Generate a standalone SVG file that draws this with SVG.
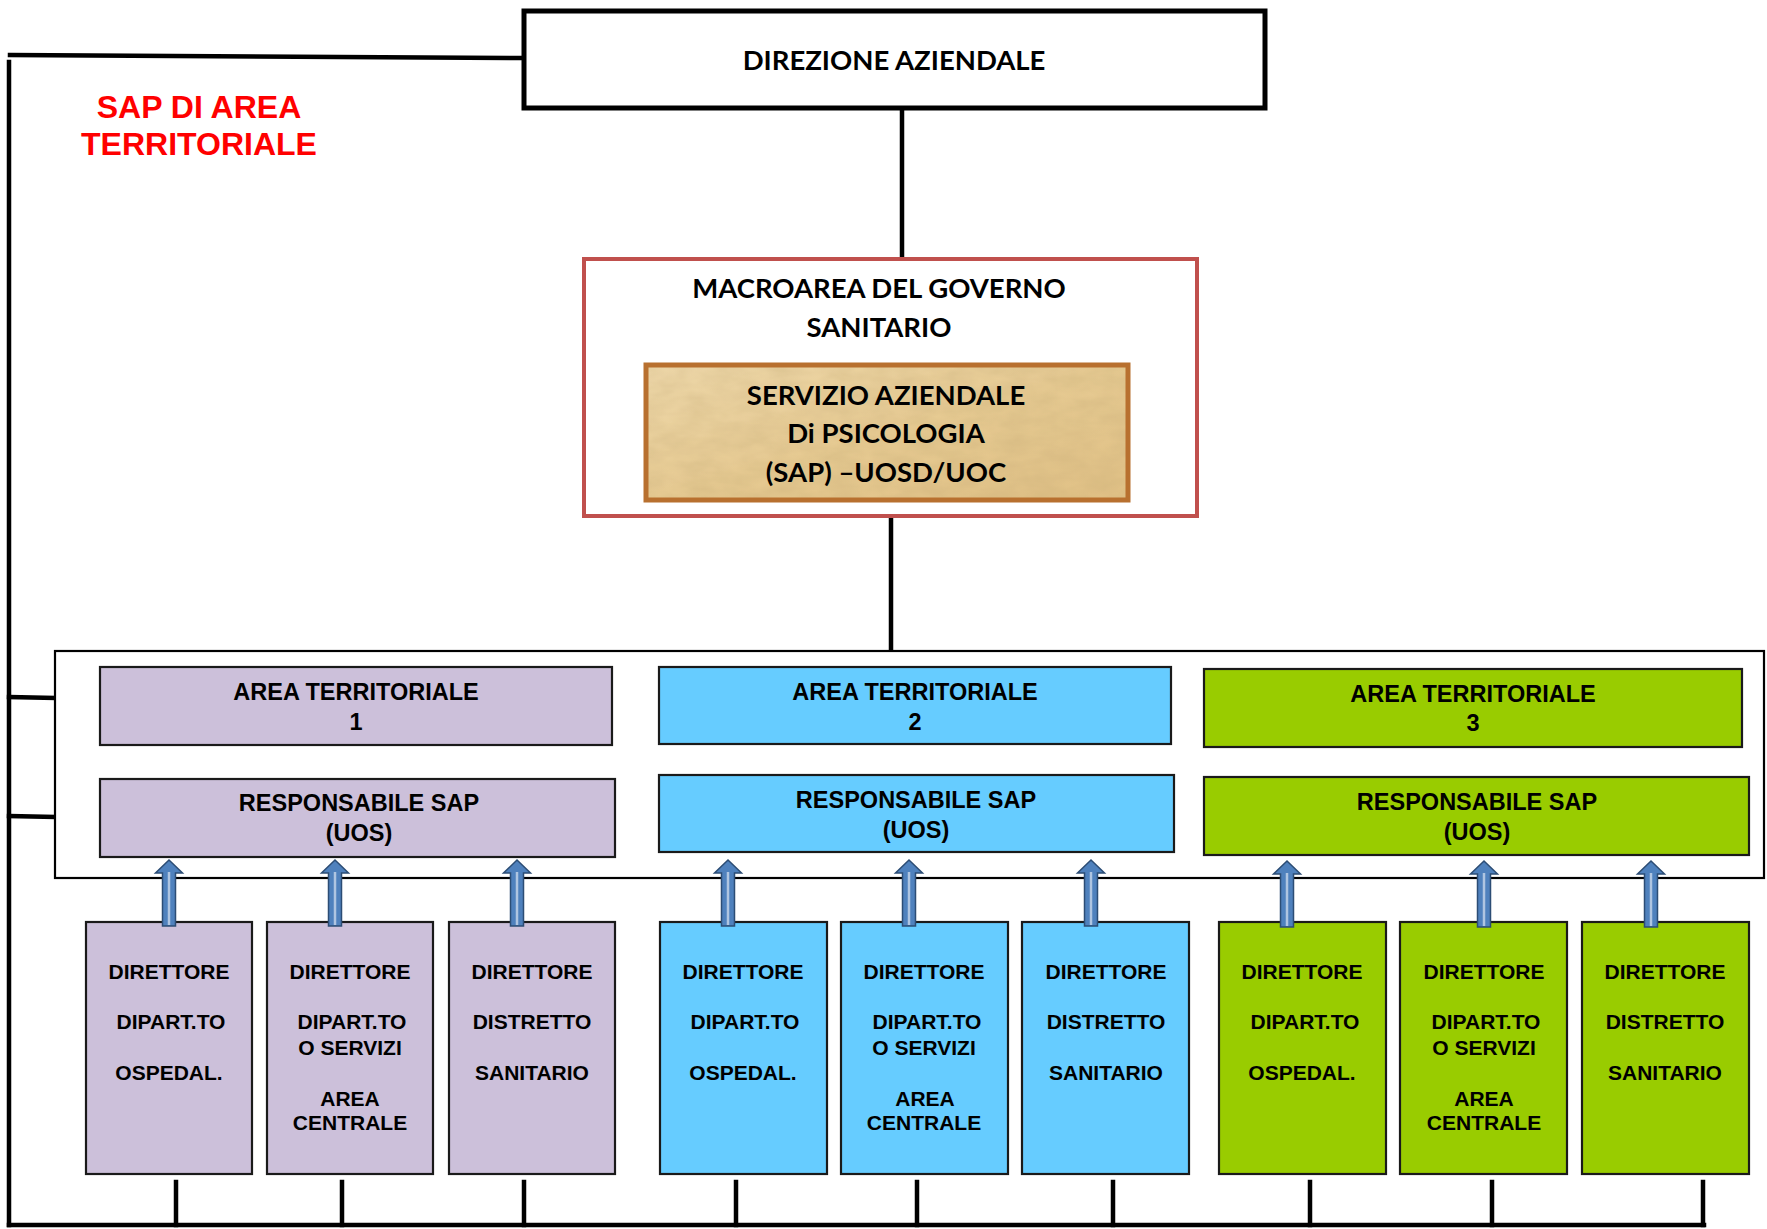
<svg xmlns="http://www.w3.org/2000/svg" width="1767" height="1229" viewBox="0 0 1767 1229">
<style>
.cal{font-family:Lato,"Open Sans","Liberation Sans",sans-serif;font-weight:bold;font-size:27.5px;fill:#000;text-anchor:middle}
.ar{font-family:"Liberation Sans",Arial,sans-serif;font-weight:bold;fill:#000;text-anchor:middle}
.t23{font-size:23.5px}
.t21{font-size:21px}
.red{font-family:"Liberation Sans",Arial,sans-serif;font-weight:bold;font-size:32px;fill:#FF0000;text-anchor:middle}
.ln{stroke:#000;stroke-width:4.5;fill:none;stroke-linecap:square}
.pur{fill:#CCC0DA}
.blu{fill:#66CCFF}
.grn{fill:#99CC00}
.box{stroke:#1a1a1a;stroke-width:2.2}
.arrow{fill:#4F81BD;stroke:#2C4D75;stroke-width:1.5}
.arrin{stroke:#C8D6EA;stroke-width:2.5;opacity:0.8}
</style>
<defs>
<filter id="papyrus" x="0" y="0" width="100%" height="100%">
<feTurbulence type="fractalNoise" baseFrequency="0.035 0.08" numOctaves="3" seed="7" result="n"/>
<feColorMatrix in="n" type="matrix" values="0 0 0 0 0.55  0 0 0 0 0.40  0 0 0 0 0.18  0 0 0 0.45 -0.08" result="c"/>
<feComposite in="c" in2="SourceGraphic" operator="in" result="t"/>
<feMerge><feMergeNode in="SourceGraphic"/><feMergeNode in="t"/></feMerge>
</filter>
<linearGradient id="pap" x1="0" y1="0" x2="1" y2="1">
<stop offset="0" stop-color="#EED8AA"/>
<stop offset="0.5" stop-color="#E6CA92"/>
<stop offset="1" stop-color="#E0C085"/>
</linearGradient>
<g id="arr">
<polygon class="arrow" points="-6.5,66 -6.5,13 -13.5,13 0,0 13.5,13 6.5,13 6.5,66"/>
<line class="arrin" x1="0" y1="12" x2="0" y2="65"/>
</g>
</defs>
<rect width="1767" height="1229" fill="#fff"/>

<g id="connectors">
<line class="ln" x1="10" y1="55" x2="522" y2="58"/>
<line class="ln" x1="9" y1="62" x2="9" y2="1225"/>
<line class="ln" x1="9" y1="1225" x2="1704" y2="1225"/>
<line class="ln" x1="9" y1="697" x2="54" y2="698"/>
<line class="ln" x1="9" y1="816" x2="54" y2="817"/>
<line class="ln" x1="902" y1="108" x2="902" y2="257"/>
<line class="ln" x1="891" y1="517" x2="891" y2="650"/>
<line class="ln" x1="176" y1="1182" x2="176" y2="1225"/>
<line class="ln" x1="342" y1="1182" x2="342" y2="1225"/>
<line class="ln" x1="524" y1="1182" x2="524" y2="1225"/>
<line class="ln" x1="736" y1="1182" x2="736" y2="1225"/>
<line class="ln" x1="917" y1="1182" x2="917" y2="1225"/>
<line class="ln" x1="1113" y1="1182" x2="1113" y2="1225"/>
<line class="ln" x1="1310" y1="1182" x2="1310" y2="1225"/>
<line class="ln" x1="1492" y1="1182" x2="1492" y2="1225"/>
<line class="ln" x1="1703" y1="1182" x2="1703" y2="1225"/>
</g>

<g id="label-sap">
<text class="red" x="199" y="118">SAP DI AREA</text>
<text class="red" x="199" y="155">TERRITORIALE</text>
</g>

<g id="direzione">
<rect x="524" y="11" width="741" height="97" fill="#fff" stroke="#000" stroke-width="5"/>
<text class="cal" x="894" y="70">DIREZIONE AZIENDALE</text>
</g>

<g id="macroarea">
<rect x="584" y="259" width="613" height="257" fill="#fff" stroke="#C0504D" stroke-width="4"/>
<text class="cal" x="879" y="298">MACROAREA DEL GOVERNO</text>
<text class="cal" x="879" y="337">SANITARIO</text>
</g>

<g id="sap">
<rect x="646" y="365" width="482" height="135" fill="url(#pap)" filter="url(#papyrus)"/>
<rect x="646" y="365" width="482" height="135" fill="none" stroke="#B8702F" stroke-width="5"/>
<text class="cal" x="886" y="405">SERVIZIO AZIENDALE</text>
<text class="cal" x="886" y="443">Di PSICOLOGIA</text>
<text class="cal" x="886" y="482">(SAP) –UOSD/UOC</text>
</g>

<g id="container">
<rect x="55" y="651" width="1709" height="227" fill="#fff" stroke="#000" stroke-width="2.2"/>
</g>

<g id="area1">
<rect class="pur box" x="100" y="667" width="512" height="78"/>
<text class="ar t23" x="356" y="700">AREA TERRITORIALE</text>
<text class="ar t23" x="356" y="730">1</text>
</g>
<g id="area2">
<rect class="blu box" x="659" y="667" width="512" height="77"/>
<text class="ar t23" x="915" y="700">AREA TERRITORIALE</text>
<text class="ar t23" x="915" y="730">2</text>
</g>
<g id="area3">
<rect class="grn box" x="1204" y="669" width="538" height="78"/>
<text class="ar t23" x="1473" y="702">AREA TERRITORIALE</text>
<text class="ar t23" x="1473" y="731">3</text>
</g>

<g id="resp1">
<rect class="pur box" x="100" y="779" width="515" height="78"/>
<text class="ar t23" x="359" y="811">RESPONSABILE SAP</text>
<text class="ar t23" x="359" y="841">(UOS)</text>
</g>
<g id="resp2">
<rect class="blu box" x="659" y="775" width="515" height="77"/>
<text class="ar t23" x="916" y="808">RESPONSABILE SAP</text>
<text class="ar t23" x="916" y="838">(UOS)</text>
</g>
<g id="resp3">
<rect class="grn box" x="1204" y="777" width="545" height="78"/>
<text class="ar t23" x="1477" y="810">RESPONSABILE SAP</text>
<text class="ar t23" x="1477" y="840">(UOS)</text>
</g>

<g id="dir-osp-1">
<rect class="pur box" x="86" y="922" width="166" height="252"/>
<text class="ar t21" x="169" y="979">DIRETTORE</text>
<text class="ar t21" x="171" y="1029">DIPART.TO</text>
<text class="ar t21" x="169" y="1080">OSPEDAL.</text>
</g>
<g id="dir-serv-1">
<rect class="pur box" x="267" y="922" width="166" height="252"/>
<text class="ar t21" x="350" y="979">DIRETTORE</text>
<text class="ar t21" x="352" y="1029">DIPART.TO</text>
<text class="ar t21" x="350" y="1055">O SERVIZI</text>
<text class="ar t21" x="350" y="1106">AREA</text>
<text class="ar t21" x="350" y="1130">CENTRALE</text>
</g>
<g id="dir-dist-1">
<rect class="pur box" x="449" y="922" width="166" height="252"/>
<text class="ar t21" x="532" y="979">DIRETTORE</text>
<text class="ar t21" x="532" y="1029">DISTRETTO</text>
<text class="ar t21" x="532" y="1080">SANITARIO</text>
</g>

<g id="dir-osp-2">
<rect class="blu box" x="660" y="922" width="167" height="252"/>
<text class="ar t21" x="743" y="979">DIRETTORE</text>
<text class="ar t21" x="745" y="1029">DIPART.TO</text>
<text class="ar t21" x="743" y="1080">OSPEDAL.</text>
</g>
<g id="dir-serv-2">
<rect class="blu box" x="841" y="922" width="167" height="252"/>
<text class="ar t21" x="924" y="979">DIRETTORE</text>
<text class="ar t21" x="927" y="1029">DIPART.TO</text>
<text class="ar t21" x="924" y="1055">O SERVIZI</text>
<text class="ar t21" x="925" y="1106">AREA</text>
<text class="ar t21" x="924" y="1130">CENTRALE</text>
</g>
<g id="dir-dist-2">
<rect class="blu box" x="1022" y="922" width="167" height="252"/>
<text class="ar t21" x="1106" y="979">DIRETTORE</text>
<text class="ar t21" x="1106" y="1029">DISTRETTO</text>
<text class="ar t21" x="1106" y="1080">SANITARIO</text>
</g>

<g id="dir-osp-3">
<rect class="grn box" x="1219" y="922" width="167" height="252"/>
<text class="ar t21" x="1302" y="979">DIRETTORE</text>
<text class="ar t21" x="1305" y="1029">DIPART.TO</text>
<text class="ar t21" x="1302" y="1080">OSPEDAL.</text>
</g>
<g id="dir-serv-3">
<rect class="grn box" x="1400" y="922" width="167" height="252"/>
<text class="ar t21" x="1484" y="979">DIRETTORE</text>
<text class="ar t21" x="1486" y="1029">DIPART.TO</text>
<text class="ar t21" x="1484" y="1055">O SERVIZI</text>
<text class="ar t21" x="1484" y="1106">AREA</text>
<text class="ar t21" x="1484" y="1130">CENTRALE</text>
</g>
<g id="dir-dist-3">
<rect class="grn box" x="1582" y="922" width="167" height="252"/>
<text class="ar t21" x="1665" y="979">DIRETTORE</text>
<text class="ar t21" x="1665" y="1029">DISTRETTO</text>
<text class="ar t21" x="1665" y="1080">SANITARIO</text>
</g>

<g id="arrows">
<use href="#arr" x="169" y="860"/>
<use href="#arr" x="335" y="860"/>
<use href="#arr" x="517" y="860"/>
<use href="#arr" x="728" y="860"/>
<use href="#arr" x="909" y="860"/>
<use href="#arr" x="1091" y="860"/>
<use href="#arr" x="1287" y="861"/>
<use href="#arr" x="1484" y="861"/>
<use href="#arr" x="1651" y="861"/>
</g>
</svg>
